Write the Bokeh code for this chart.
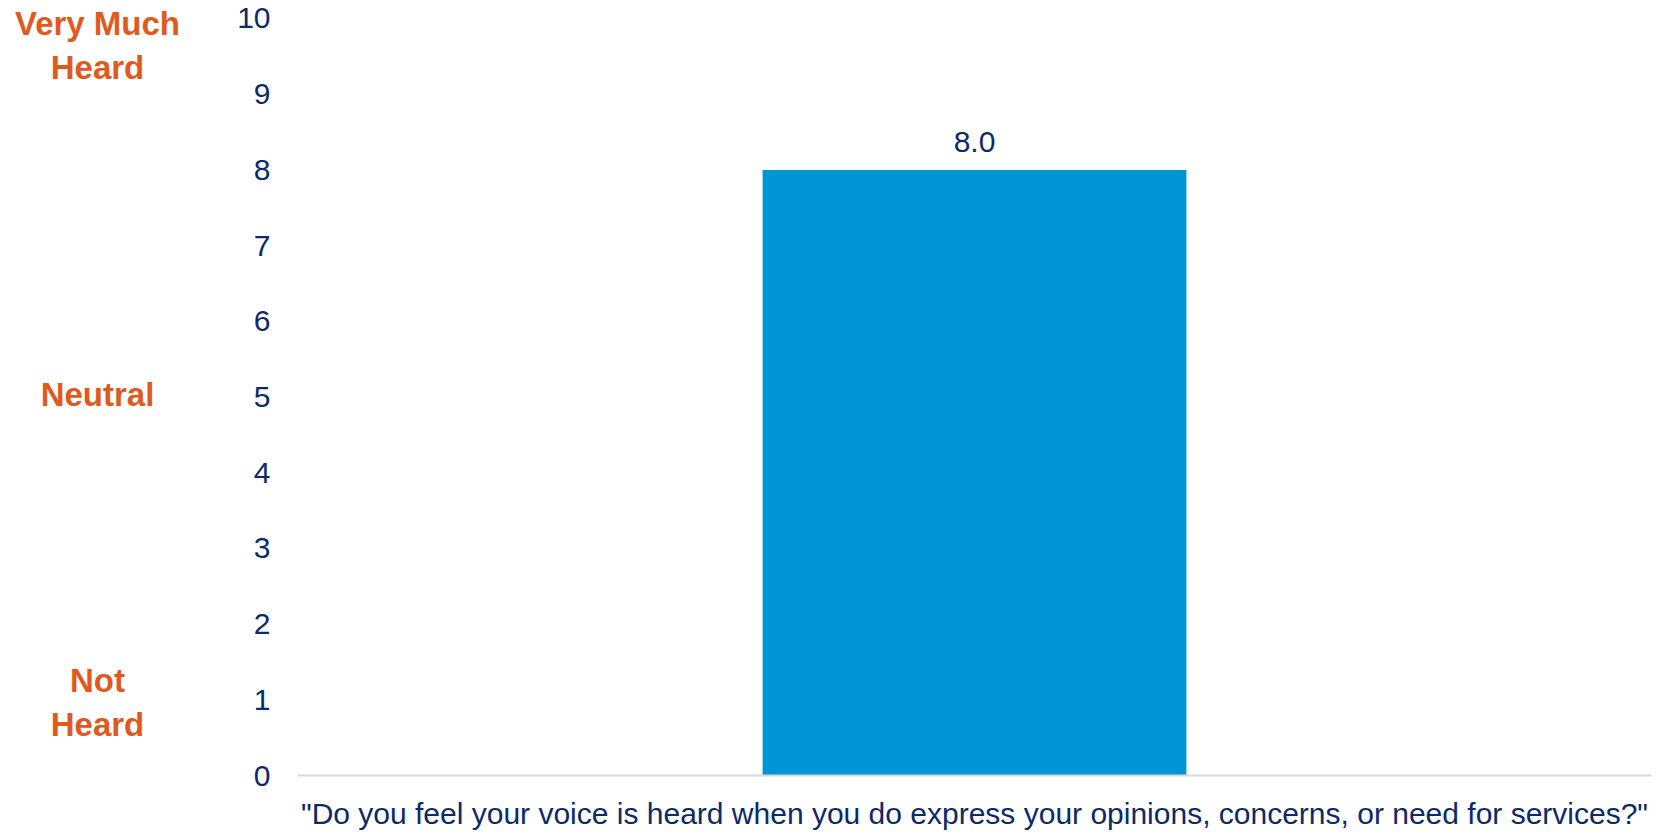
from bokeh.plotting import figure
from bokeh.layouts import row
from bokeh.models import ColumnDataSource, LabelSet, FixedTicker, Range1d, FactorRange
from bokeh.core.properties import value
from bokeh.embed import file_html
from bokeh.resources import INLINE

# ---- data ----
questions = ['"Do you feel your voice is heard when you do express your opinions, concerns, or need for services?"']
scores = [8.0]
score_text = ["8.0"]
y_ticks = [0, 1, 2, 3, 4, 5, 6, 7, 8, 9, 10]
anchor_labels = ["Very Much\nHeard", "Neutral", "Not\nHeard"]
anchor_values = [9.64, 5.03, 0.97]

NAVY = "#0C2A6B"
ORANGE = "#E05A1E"
BLUE = "#0096D6"
FONT = "Liberation Sans"

Y_MIN, Y_MAX = 0, 10
TOP_PAD, BOTTOM = 18, 56
H = 832
frame_h = H - BOTTOM
# extend the view a little above 10 so that 10 sits TOP_PAD px below the top edge
yr = Range1d(Y_MIN, Y_MIN + (Y_MAX - Y_MIN) * frame_h / (frame_h - TOP_PAD))

# ---- main chart ----
p = figure(width=1459, height=H,
           x_range=FactorRange(factors=questions, range_padding=0),
           y_range=yr,
           output_backend="svg", toolbar_location=None)
p.min_border_left = 97
p.min_border_right = 8
p.min_border_top = 0
p.min_border_bottom = BOTTOM
p.outline_line_color = None
p.xgrid.grid_line_color = None
p.ygrid.grid_line_color = None

src = ColumnDataSource(dict(q=questions, s=scores, t=score_text))
p.vbar(x="q", top="s", width=0.313, source=src, fill_color=BLUE, line_color=None)

p.add_layout(LabelSet(x="q", y="s", text="t", source=src, text_align="center",
                      text_baseline="middle", y_offset=28,
                      text_font=value(FONT), text_font_size="30px", text_color=NAVY))

yax = p.yaxis[0]
yax.ticker = FixedTicker(ticks=y_ticks)
yax.axis_line_color = None
yax.major_tick_line_color = None
yax.minor_tick_line_color = None
yax.major_label_standoff = 21
yax.major_label_text_font = FONT
yax.major_label_text_font_size = "30px"
yax.major_label_text_color = NAVY

xax = p.xaxis[0]
xax.axis_line_color = "#D9D9D9"
xax.axis_line_width = 2
xax.major_tick_line_color = None
xax.minor_tick_line_color = None
xax.major_label_standoff = 15
xax.major_label_text_font = FONT
xax.major_label_text_font_size = "30px"
xax.major_label_text_color = NAVY

# ---- left panel with the scale anchor labels (same vertical scale) ----
q = figure(width=200, height=H, x_range=Range1d(0, 200), y_range=yr,
           output_backend="svg", toolbar_location=None)
q.min_border_left = 0
q.min_border_right = 0
q.min_border_top = 0
q.min_border_bottom = BOTTOM
q.outline_line_color = None
q.axis.visible = False
q.grid.visible = False
asrc = ColumnDataSource(dict(t=anchor_labels, y=anchor_values, x=[97] * len(anchor_labels)))
q.text(x="x", y="y", text="t", source=asrc, text_align="center", text_baseline="middle",
       text_font=value(FONT), text_font_style="bold", text_font_size="33px",
       text_line_height=1.19, text_color=ORANGE)

layout = row(q, p)
open("out.html", "w").write(file_html(layout, INLINE))
